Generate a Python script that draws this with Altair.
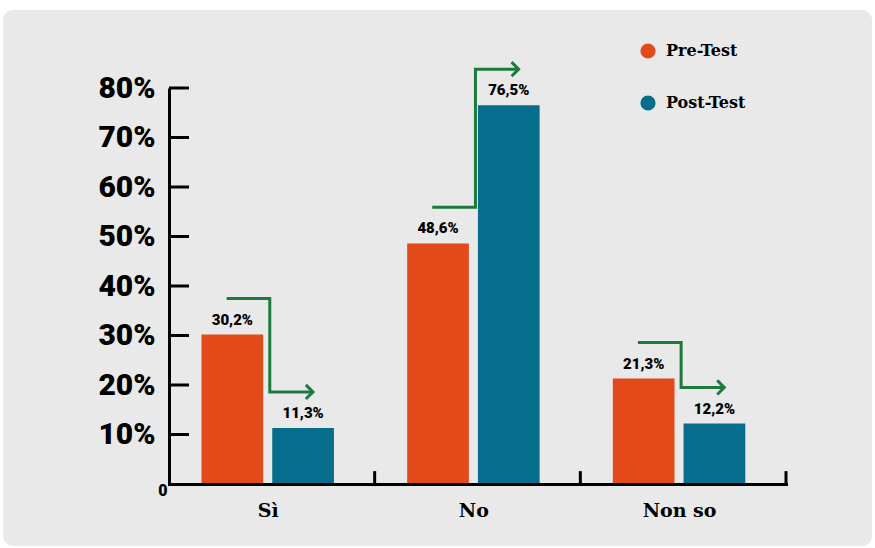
import json
import altair as alt
import pandas as pd

# ---------------- data ----------------
categories = ["Sì", "No", "Non so"]
pre_test = [30.2, 48.6, 21.3]
post_test = [11.3, 76.5, 12.2]
series_names = ["Pre-Test", "Post-Test"]
y_ticks = [10, 20, 30, 40, 50, 60, 70, 80]

# ---------------- style ----------------
ORANGE = "#E34A1A"
TEAL = "#066D8D"
GREEN = "#1B7A3C"
BG = "#E9E9E9"
HEAVY = "Roboto"
W, H = 617, 396
BAR_W = 0.30
GAP = 0.044
ARROW_LIFT = 7.3
A_START, A_ELBOW, A_END = -0.20, 0.01, 0.22
X_SHIFT = 0.02

rows = []
for i, c in enumerate(categories):
    center = i + 0.5 - X_SHIFT
    for s, vals in zip(series_names, [pre_test, post_test]):
        v = vals[i]
        if s == series_names[0]:
            x0, x1 = center - GAP / 2 - BAR_W, center - GAP / 2
        else:
            x0, x1 = center + GAP / 2, center + GAP / 2 + BAR_W
        rows.append(dict(cat=c, series=s, value=v, x0=x0, x1=x1, xm=(x0 + x1) / 2,
                         label=f"{v:.1f}".replace(".", ",") + "%"))
bars_df = pd.DataFrame(rows)

arrow_rows = []
for i, c in enumerate(categories):
    center = i + 0.5 - X_SHIFT
    ya = pre_test[i] + ARROW_LIFT
    yb = post_test[i] + ARROW_LIFT
    pts = [(center + A_START, ya), (center + A_ELBOW, ya),
           (center + A_ELBOW, yb), (center + A_END, yb)]
    for k, (x, y) in enumerate(pts):
        arrow_rows.append(dict(cat=c, k=k, x=x, y=y))
arrow_df = pd.DataFrame(arrow_rows)
head_df = arrow_df[arrow_df["k"] == 3]

xscale = alt.Scale(domain=[0, len(categories)], nice=False, zero=False)
yscale = alt.Scale(domain=[0, 80], nice=False)

label_expr = json.dumps(categories) + "[round(datum.value)]"

bg = alt.Chart(pd.DataFrame({"a": [0]})).mark_rect(color=BG, cornerRadius=10).encode(
    x=alt.value(-166), x2=alt.value(703), y=alt.value(-78), y2=alt.value(458)
)

bars = alt.Chart(bars_df).mark_rect().encode(
    x=alt.X("x0:Q", scale=xscale,
            axis=alt.Axis(values=[i + 0.5 - X_SHIFT for i in range(len(categories))],
                          labelExpr=json.dumps(categories) + "[floor(datum.value)]",
                          ticks=False, grid=False,
                          domainColor="black", domainWidth=3, domainCap="square",
                          labelFont="DejaVu Serif", labelFontWeight="bold",
                          labelFontSize=19, labelColor="black", labelPadding=17,
                          title=None, zindex=1)),
    x2="x1:Q",
    y=alt.Y("value:Q", scale=yscale,
            axis=alt.Axis(values=y_ticks, labelExpr="datum.value + '%'",
                          ticks=False, grid=False, domainColor="black",
                          domainWidth=3, labelFont=HEAVY, labelFontWeight=900,
                          labelFontSize=30, labelColor="black", labelPadding=14,
                          title=None, zindex=1)),
    y2=alt.datum(0),
    color=alt.Color("series:N",
                    scale=alt.Scale(domain=series_names, range=[ORANGE, TEAL]),
                    legend=alt.Legend(title=None, orient="none", legendX=471,
                                      legendY=-45, symbolType="circle",
                                      symbolSize=230, symbolStrokeWidth=0,
                                      labelFont="DejaVu Serif",
                                      labelFontWeight="bold", labelFontSize=16,
                                      labelColor="black", labelOffset=10,
                                      rowPadding=36)),
)

values_txt = alt.Chart(bars_df).mark_text(
    font=HEAVY, fontWeight=900, fontSize=15, color="black", dy=-15, baseline="middle"
).encode(x="xm:Q", y="value:Q", text="label:N")

arrows = alt.Chart(arrow_df).mark_line(
    color=GREEN, strokeWidth=3, strokeJoin="miter"
).encode(x="x:Q", y="y:Q", detail="cat:N", order="k:Q")

heads = alt.Chart(head_df).mark_point(
    shape="M-1,-1L0,0L-1,1", filled=False, size=200, stroke=GREEN,
    strokeWidth=3, opacity=1
).encode(x="x:Q", y="y:Q")

yt = alt.Chart(pd.DataFrame({"v": y_ticks})).mark_rule(
    color="black", strokeWidth=3
).encode(y="v:Q", x=alt.value(0), x2=alt.value(20))

xt = alt.Chart(pd.DataFrame({"b": list(range(1, len(categories) + 1))})).mark_rule(
    color="black", strokeWidth=3
).encode(x="b:Q", y=alt.datum(0), y2=alt.datum(2.6))

zero = alt.Chart(pd.DataFrame({"t": ["0"]})).mark_text(
    font=HEAVY, fontWeight=900, fontSize=16, color="black", dx=-6, dy=7,
    baseline="middle"
).encode(x=alt.datum(0), y=alt.datum(0), text="t:N")

chart = alt.layer(bg, bars, values_txt, arrows, heads, yt, xt, zero).properties(
    width=W, height=H,
    autosize=alt.AutoSizeParams(type="none"),
    padding={"left": 169, "top": 88, "right": 89, "bottom": 64},
    background="white",
).configure_view(stroke=None)

chart.save("out.html", embed_options={"renderer": "svg", "actions": False})
